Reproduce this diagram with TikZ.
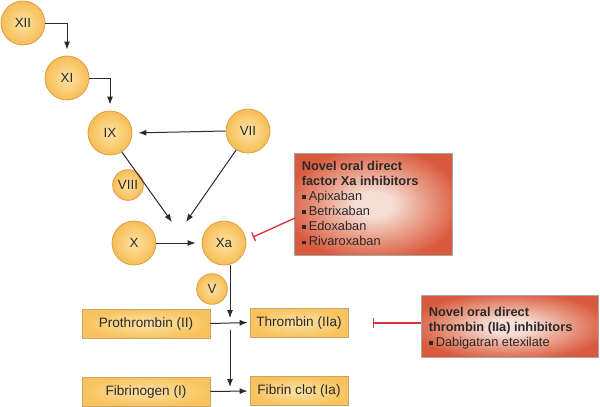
\documentclass[tikz,border=0pt]{standalone}
\usepackage{fontspec}
\setmainfont{Liberation Sans}
\usetikzlibrary{arrows.meta}
\definecolor{circin}{HTML}{FDE3A6}
\definecolor{circout}{HTML}{F7BD55}
\definecolor{circline}{HTML}{D9A04A}
\definecolor{boxin}{HTML}{FCE3A8}
\definecolor{boxout}{HTML}{F8C35E}
\definecolor{boxline}{HTML}{C9A467}
\definecolor{redin}{HTML}{F6DED6}
\definecolor{redmid}{HTML}{EAA08B}
\definecolor{redout}{HTML}{D95A3E}
\definecolor{inhib}{HTML}{D8323A}
\definecolor{ink}{HTML}{2A2A2A}
\pgfdeclareradialshading{redglow}{\pgfpoint{0bp}{0bp}}{color(0bp)=(redin); color(6bp)=(redin); color(16bp)=(redmid); color(28bp)=(redout); color(50bp)=(redout)}
\newcommand{\sqb}{\raisebox{0.12em}{\rule{0.3em}{0.3em}}\hspace{0.25em}}
\begin{document}
\begin{tikzpicture}[x=0.75pt,y=-0.75pt,
  factor/.style={circle,draw=circline,line width=0.6pt,inner color=circin,outer color=circout,minimum size=33pt,inner sep=0pt,font=\fontsize{10}{12}\selectfont,text=ink},
  smallfactor/.style={factor,minimum size=23pt},
  stage/.style={rectangle,draw=boxline,line width=0.6pt,inner color=boxin,outer color=boxout,minimum height=21.75pt,inner sep=0pt,font=\fontsize{10.2}{12}\selectfont,text=ink},
  drug/.style={rectangle,draw=gray!70,line width=0.6pt,shading=redglow,anchor=north west,inner sep=0pt},
  drugtext/.style={anchor=north west,align=left,inner sep=0pt,font=\fontsize{9.6}{11.3}\selectfont,text=ink},
  arr/.style={draw=ink,line width=0.75pt,-{Latex[length=6pt,width=4.5pt]}},
  inh/.style={draw=inhib,line width=1pt,-{Bar[width=7pt]}}]
\useasboundingbox (0,0) rectangle (600,407);
% factors
\node[factor] (xii) at (23,23) {XII};
\node[factor] (xi) at (67,78) {XI};
\node[factor] (ix) at (110,133) {IX};
\node[factor] (vii) at (248,131) {VII};
\node[smallfactor] (viii) at (128,185) {VIII};
\node[factor] (x) at (134,243) {X};
\node[factor] (xa) at (224,243) {Xa};
\node[smallfactor] (v) at (212,289) {V};
% stages
\node[stage,minimum width=96pt] (pro) at (146,323.5) {Prothrombin (II)};
\node[stage,minimum width=73.5pt] (thr) at (299,322.5) {Thrombin (IIa)};
\node[stage,minimum width=96pt] (fib) at (146,391.5) {Fibrinogen (I)};
\node[stage,minimum width=73.5pt] (clot) at (299,391) {Fibrin clot (Ia)};
% drug boxes
\node[drug,minimum width=118.5pt,minimum height=76.5pt] (d1) at (294,153) {};
\node[drugtext] (t1) at (301.5,161) {\textbf{Novel oral direct}\\\textbf{factor Xa inhibitors}\\\sqb Apixaban\\\sqb Betrixaban\\\sqb Edoxaban\\\sqb Rivaroxaban};
\node[drug,minimum width=132.75pt,minimum height=46.5pt] (d2) at (421,295) {};
\node[drugtext] (t2) at (428.5,306.5) {\textbf{Novel oral direct}\\\textbf{thrombin (IIa) inhibitors}\\\sqb Dabigatran etexilate};
% junction coordinates
\coordinate (j1) at (172,222);
\coordinate (j2) at (186,222);
\coordinate (j3) at (230,318);
\coordinate (j4) at (230,330);
\coordinate (j5) at (230,387);
\coordinate (h1) at (295,218);
\coordinate (h2) at (253,237);
\coordinate (h3) at (373,323);
% connectors
\draw[arr,shorten >=4.5pt] (xii.east) -| (xi.north);
\draw[arr,shorten >=4.5pt] (xi.east) -| (ix.north);
\draw[arr,shorten >=4.5pt] (vii.west) -- (ix.east);
\draw[arr] (ix.-58) -- (j1);
\draw[arr] (vii.-122) -- (j2);
\draw[arr,shorten >=4.5pt] (x.east) -- (xa.west);
\draw[arr] (j3 |- xa.south) -- (j3);
\draw[arr] (j4) -- (j5);
\draw[arr,shorten >=1.5pt] (pro.east) -- (thr.west);
\draw[arr,shorten >=1.5pt] (fib.east) -- (clot.west);
\draw[inh] (h1) -- (h2);
\draw[inh] (d2.west |- h3) -- (h3);
\end{tikzpicture}
\end{document}
